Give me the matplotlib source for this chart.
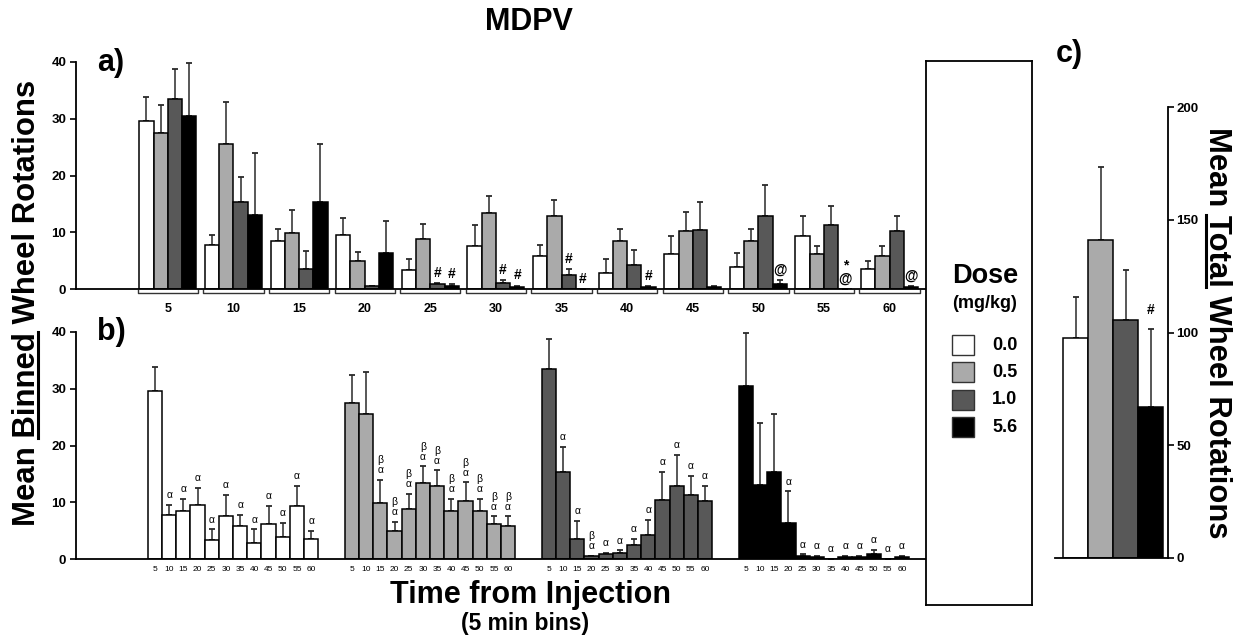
import numpy as np
import matplotlib.pyplot as plt
from matplotlib.patches import Rectangle
from matplotlib.font_manager import FontProperties
from matplotlib.transforms import blended_transform_factory

plt.rcParams['font.family'] = ['Liberation Sans', 'DejaVu Sans']

W, H = 1248, 641

bins = [5, 10, 15, 20, 25, 30, 35, 40, 45, 50, 55, 60]
doses = ['0.0', '0.5', '1.0', '5.6']
colors = ['#ffffff', '#aaaaaa', '#585858', '#000000']

# mean binned rotations and top of SEM bar, per dose
mean_00 = [29.6, 7.8, 8.4, 9.6, 3.4, 7.5, 5.9, 2.9, 6.2, 3.8, 9.4, 3.5]
top_00 = [33.8, 9.6, 10.6, 12.5, 5.2, 11.3, 7.7, 5.2, 9.4, 6.3, 12.8, 5.0]
mean_05 = [27.5, 25.5, 9.8, 4.9, 8.8, 13.4, 12.9, 8.5, 10.2, 8.4, 6.1, 5.8]
top_05 = [32.4, 32.9, 14.0, 6.5, 11.5, 16.3, 15.6, 10.6, 13.5, 10.6, 7.5, 7.5]
mean_10 = [33.4, 15.3, 3.5, 0.5, 0.9, 1.1, 2.4, 4.2, 10.4, 12.9, 11.3, 10.2]
top_10 = [38.7, 19.8, 6.7, 0.6, 1.0, 1.5, 3.5, 6.9, 15.4, 18.3, 14.6, 12.8]
mean_56 = [30.5, 13.0, 15.3, 6.3, 0.5, 0.4, 0.0, 0.35, 0.35, 0.9, 0.0, 0.35]
top_56 = [39.8, 23.9, 25.6, 11.9, 0.8, 0.6, 0.0, 0.5, 0.5, 1.6, 0.0, 0.5]

means = [mean_00, mean_05, mean_10, mean_56]
tops = [top_00, top_05, top_10, top_56]

# significance marks in panel a: (dose index, bin index) -> text
marks_a = {(2, 4): '#', (3, 4): '#', (2, 5): '#', (3, 5): '#', (2, 6): '#',
           (3, 6): '#', (3, 7): '#', (3, 9): '@', (3, 10): '*\n@', (3, 11): '@'}

# marks in panel b (vs 5 min bin: alpha, vs 10 min bin: beta)
a, ba = '\u03b1', '\u03b2\n\u03b1'
marks_00 = ['', a, a, a, a, a, a, a, a, a, a, a]
marks_05 = ['', '', ba, ba, ba, ba, ba, ba, ba, ba, ba, ba]
marks_10 = ['', a, a, ba, a, a, a, a, a, a, a, a]
marks_56 = ['', '', '', a, a, a, a, a, a, a, a, a]
marks_b = [marks_00, marks_05, marks_10, marks_56]

# total rotations (panel c)
total_mean = [97.7, 141.0, 105.5, 67.1]
total_top = [115.8, 173.5, 127.7, 101.5]


def fpos(x0, y0, x1, y1):
    # pixel box (top-left origin) -> figure fraction rect
    return [x0 / W, 1 - y1 / H, (x1 - x0) / W, (y1 - y0) / H]


def style_axis(ax):
    for s in ['top', 'right']:
        ax.spines[s].set_visible(False)
    for s in ['left', 'bottom']:
        ax.spines[s].set_linewidth(1.3)
    ax.set_ylim(0, 40)
    ax.set_yticks([0, 10, 20, 30, 40])
    ax.tick_params(axis='y', length=4, width=1.2, pad=3, labelsize=9.5)
    for lab in ax.get_yticklabels():
        lab.set_fontweight('bold')


fig = plt.figure(figsize=(W / 100, H / 100), dpi=100)
ax_a = fig.add_axes(fpos(76, 62, 926, 289))
ax_b = fig.add_axes(fpos(76, 332, 926, 559))
ax_c = fig.add_axes(fpos(1055, 107, 1168, 558))
ax_l = fig.add_axes(fpos(926, 61, 1032, 605))

ekw = dict(fmt='none', ecolor='#2a2a2a', elinewidth=1.1, capsize=2.2, capthick=1.3)

# ---- panel a: grouped by time bin
bw = 0.217
gx = np.arange(len(bins))
for k in range(4):
    x = gx + (k - 1.5) * bw
    m = np.array(means[k])
    e = np.array(tops[k]) - m
    ax_a.bar(x, m, bw, color=colors[k], edgecolor='black', linewidth=1.1, zorder=2)
    ax_a.errorbar(x, m, yerr=[np.zeros_like(e), e], zorder=1, **ekw)
for (k, i), txt in marks_a.items():
    ax_a.annotate(txt, (gx[i] + (k - 1.5) * bw, tops[k][i]), xytext=(0, 2.5),
                  textcoords='offset points', ha='center', va='bottom',
                  fontsize=10, fontweight='bold', linespacing=0.9)
style_axis(ax_a)
ax_a.set_xlim(-1.40, 11.555)
ax_a.set_xticks(gx)
ax_a.set_xticklabels([str(b) for b in bins], fontsize=9, fontweight='bold')
ax_a.tick_params(axis='x', length=0, pad=10)
tr = blended_transform_factory(ax_a.transData, ax_a.transAxes)
for i in gx:
    ax_a.plot([i - 0.46, i - 0.46, i + 0.46, i + 0.46], [-0.006, -0.018, -0.018, -0.006],
              color='#333333', lw=1.0, transform=tr, clip_on=False)

# ---- panel b: grouped by dose
gap = 13.87
bx_all, blabels = [], []
for k in range(4):
    x = k * gap + np.arange(len(bins))
    m = np.array(means[k])
    e = np.array(tops[k]) - m
    ax_b.bar(x, m, 1.0, color=colors[k], edgecolor='black', linewidth=1.1, zorder=2)
    ax_b.errorbar(x, m, yerr=[np.zeros_like(e), e], zorder=1, **ekw)
    for i, txt in enumerate(marks_b[k]):
        if txt:
            ax_b.annotate(txt, (x[i], tops[k][i]), xytext=(0, 3.5),
                          textcoords='offset points', ha='center', va='bottom',
                          fontsize=7.5, linespacing=1.0)
    bx_all += list(x)
    blabels += [str(b) for b in bins]
style_axis(ax_b)
ax_b.set_xlim(-5.56, 54.3)
ax_b.set_xticks(bx_all)
ax_b.set_xticklabels(blabels, fontsize=6)
ax_b.tick_params(axis='x', length=0, pad=5)

# ---- panel c: totals
cx = np.arange(4) + 0.5
cm = np.array(total_mean)
ce = np.array(total_top) - cm
ax_c.bar(cx, cm, 1.0, color=colors, edgecolor='black', linewidth=1.1, zorder=2)
ax_c.errorbar(cx, cm, yerr=[np.zeros_like(ce), ce], zorder=1, **ekw)
ax_c.annotate('#', (cx[3], total_top[3]), xytext=(0, 9), textcoords='offset points',
              ha='center', va='bottom', fontsize=10, fontweight='bold')
ax_c.set_xlim(-0.32, 4.2)
ax_c.set_ylim(0, 200)
ax_c.set_yticks([0, 50, 100, 150, 200])
for s in ['top', 'left']:
    ax_c.spines[s].set_visible(False)
for s in ['right', 'bottom']:
    ax_c.spines[s].set_linewidth(1.3)
ax_c.set_xticks([])
ax_c.yaxis.tick_right()
ax_c.tick_params(axis='y', length=4, width=1.2, pad=2, labelsize=9.5)
for lab in ax_c.get_yticklabels():
    lab.set_fontweight('bold')

# ---- legend box
ax_l.set_xticks([])
ax_l.set_yticks([])
for s in ax_l.spines.values():
    s.set_linewidth(1.3)
ax_l.set_xlim(926, 1032)
ax_l.set_ylim(605, 61)
ax_l.text(985, 283, 'Dose', ha='center', va='baseline', fontsize=19.5, fontweight='bold')
ax_l.text(985, 303, '(mg/kg)', ha='center', va='center', fontsize=13, fontweight='bold')
for k, (d, c) in enumerate(zip(doses, colors)):
    yc = 345 + k * 27.4
    ax_l.add_patch(Rectangle((952, yc - 10), 22, 20, facecolor=c, edgecolor='#333333', lw=1.0))
    ax_l.text(992, yc, d, ha='left', va='center', fontsize=13, fontweight='bold')

# ---- titles and panel letters
fig.text(529 / W, 1 - 22 / H, 'MDPV', ha='center', va='center', fontsize=22, fontweight='bold')
fig.text(530 / W, 1 - 603 / H, 'Time from Injection', ha='center', va='baseline',
         fontsize=22, fontweight='bold')
fig.text(525 / W, 1 - 630 / H, '(5 min bins)', ha='center', va='baseline',
         fontsize=16.5, fontweight='bold')
fig.text(97 / W, 1 - 71 / H, 'a)', ha='left', va='baseline', fontsize=22, fontweight='bold')
fig.text(97 / W, 1 - 340 / H, 'b)', ha='left', va='baseline', fontsize=22, fontweight='bold')
fig.text(1056 / W, 1 - 62 / H, 'c)', ha='left', va='baseline', fontsize=22, fontweight='bold')


def underlined_label(xc, yc, before, word, after, rot, size):
    # rotated label centred at pixel (xc, yc), with one word underlined
    prop = FontProperties(family=['Liberation Sans', 'DejaVu Sans'], weight='bold', size=size)
    r = fig.canvas.get_renderer()
    tw = lambda s: r.get_text_width_height_descent(s, prop, ismath=False)[0]
    full = before + word + after
    wf = tw(full)
    wpre = tw(before + word) - tw(word)
    ww = tw(word)
    _, h, d = r.get_text_width_height_descent('lp', prop, ismath=False)
    fig.text(xc / W, 1 - yc / H, full, rotation=rot, ha='center', va='center',
             fontproperties=prop, rotation_mode='anchor')
    if rot == 90:
        y0 = yc + wf / 2 - wpre
        y1 = y0 - ww
        xu = xc + h / 2 - d + 3
    else:
        y0 = yc - wf / 2 + wpre
        y1 = y0 + ww
        xu = xc - h / 2 + d - 3
    fig.add_artist(plt.Line2D([xu / W, xu / W], [1 - y0 / H, 1 - y1 / H],
                              transform=fig.transFigure, color='black', lw=2.2))


underlined_label(27, 303, 'Mean ', 'Binned', ' Wheel Rotations', 90, 22.4)
underlined_label(1217, 333, 'Mean ', 'Total', ' Wheel Rotations', 270, 22.3)

fig.savefig('out.png', dpi=100)
